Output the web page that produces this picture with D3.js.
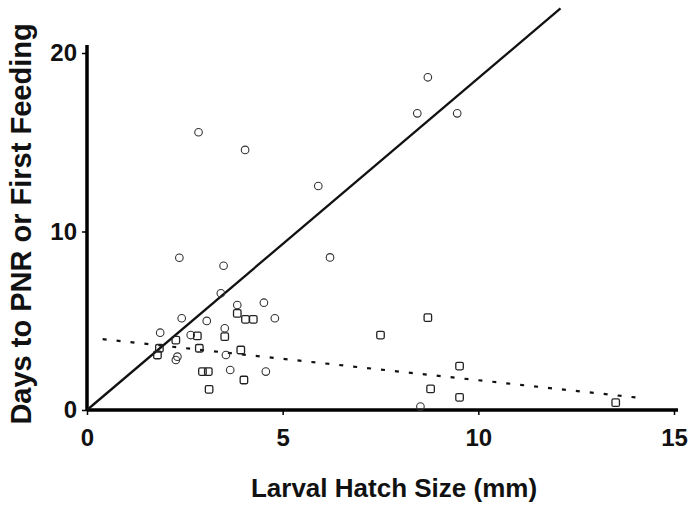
<!DOCTYPE html>
<html>
<head>
<meta charset="utf-8">
<script src="https://cdn.jsdelivr.net/npm/d3@7"></script>
<style>
    body { margin: 0; background: #fff; }
    text { font-family: "Liberation Sans", Arial, sans-serif; font-weight: bold; fill: #111; }
    .circle { fill: none; stroke: #333; stroke-width: 1.1; }
    .square { fill: none; stroke: #222; stroke-width: 1.3; }
</style>
</head>
<body>
<div id="chart"></div>
<script>
    // days to PNR (circles)
    const pnrX = [2.85, 4.04, 5.91, 8.44, 8.71, 9.46, 2.36, 3.49, 6.21, 3.42, 3.84, 4.52, 2.42, 3.06, 4.8,
                  3.52, 1.87, 2.65, 2.31, 2.27, 3.55, 3.66, 4.57, 8.52];
    const pnrY = [15.56, 14.57, 12.55, 16.62, 18.64, 16.62, 8.53, 8.08, 8.55, 6.54, 5.88, 6.01, 5.14, 4.99, 5.14,
                  4.58, 4.33, 4.2, 2.99, 2.8, 3.08, 2.24, 2.15, 0.19];

    // days to first feeding (squares)
    const feedX = [8.71, 7.5, 9.52, 8.78, 9.52, 13.51, 3.84, 4.05, 4.25, 3.52, 2.82, 2.27, 1.85, 1.8,
                   2.87, 3.93, 2.95, 3.1, 4.01, 3.12];
    const feedY = [5.17, 4.2, 2.46, 1.18, 0.71, 0.41, 5.41, 5.08, 5.08, 4.11, 4.15, 3.92, 3.46, 3.08,
                   3.46, 3.36, 2.15, 2.15, 1.68, 1.16];

    // fitted lines
    const pnrLine = [[0, 0], [12.1, 22.5]];
    const feedLine = [[0.4, 3.97], [14.2, 0.66]];

    const xTicks = [0, 5, 10, 15];
    const yTicks = [0, 10, 20];

    const width = 689, height = 505;
    const svg = d3.select("#chart").append("svg")
        .attr("width", width)
        .attr("height", height);

    const x = d3.scaleLinear().domain([0, 15]).range([87, 674]);
    const y = d3.scaleLinear().domain([0, 20]).range([410, 53]);

    // axes
    const xAxis = svg.append("g")
        .attr("transform", `translate(0,${y(0)})`)
        .call(d3.axisBottom(x).tickValues(xTicks).tickSize(5).tickPadding(14).tickFormat(d3.format("d")));
    xAxis.select(".domain").attr("d", `M${x(0)},0H${x(15) + 4}`).attr("stroke-width", 3.5);
    xAxis.selectAll(".tick line").attr("stroke-width", 1.5);
    xAxis.selectAll("text").attr("font-size", 24);

    const yAxis = svg.append("g")
        .attr("transform", `translate(${x(0)},0)`)
        .call(d3.axisLeft(y).tickValues(yTicks).tickSize(5).tickPadding(5).tickFormat(d3.format("d")));
    yAxis.select(".domain").attr("d", `M0,${y(0)}V${y(20) - 8}`).attr("stroke-width", 3.5);
    yAxis.selectAll(".tick line").attr("stroke-width", 1.5);
    yAxis.selectAll("text").attr("font-size", 24);

    // fitted lines
    const line = d3.line().x(d => x(d[0])).y(d => y(d[1]));
    svg.append("path")
        .attr("d", line(pnrLine))
        .attr("fill", "none")
        .attr("stroke", "#111")
        .attr("stroke-width", 2.3);
    svg.append("path")
        .attr("d", line(feedLine))
        .attr("fill", "none")
        .attr("stroke", "#111")
        .attr("stroke-width", 2.2)
        .attr("stroke-dasharray", "4,10");

    // points
    svg.append("g").selectAll("circle")
        .data(d3.range(pnrX.length))
        .join("circle")
        .attr("class", "circle")
        .attr("cx", i => x(pnrX[i]))
        .attr("cy", i => y(pnrY[i]))
        .attr("r", 3.8);

    const s = 7.5;
    svg.append("g").selectAll("rect")
        .data(d3.range(feedX.length))
        .join("rect")
        .attr("class", "square")
        .attr("x", i => x(feedX[i]) - s / 2)
        .attr("y", i => y(feedY[i]) - s / 2)
        .attr("width", s)
        .attr("height", s)
        .attr("rx", 1.5);

    // axis titles
    svg.append("text")
        .attr("x", 394)
        .attr("y", 497)
        .attr("text-anchor", "middle")
        .attr("font-size", 26)
        .text("Larval Hatch Size (mm)");

    svg.append("text")
        .attr("transform", "translate(31,224) rotate(-90)")
        .attr("text-anchor", "middle")
        .attr("font-size", 29)
        .text("Days to PNR or First Feeding");
</script>
</body>
</html>
